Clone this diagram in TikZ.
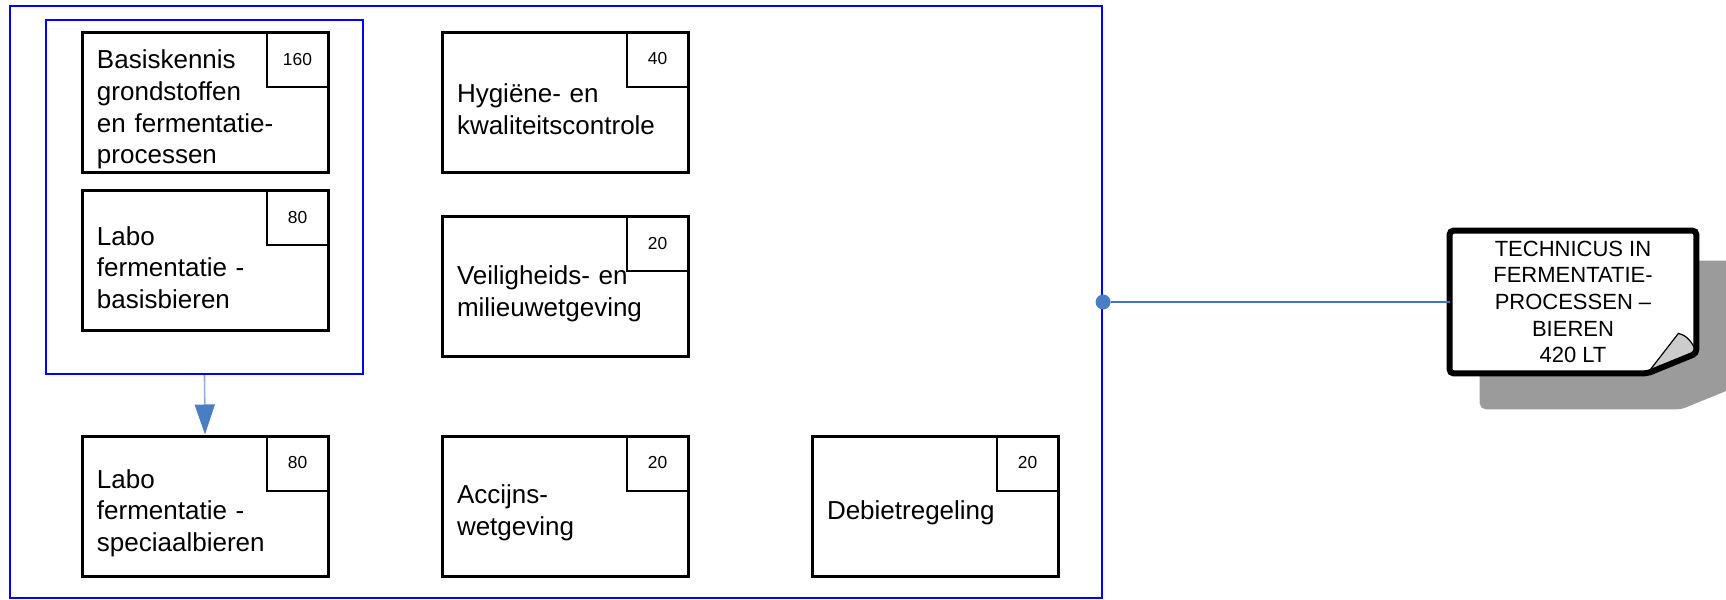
\documentclass[tikz,border=0pt]{standalone}
\usepackage{fontspec}
\setmainfont{Liberation Sans}
\usetikzlibrary{
  positioning, arrows.meta, fit, calc, backgrounds
}
\definecolor{frameblue}{HTML}{0000FF}
\definecolor{linkblue}{HTML}{4472C4}
\definecolor{tipblue}{HTML}{4A7EC4}
\definecolor{paleblue}{HTML}{8FAADC}
\definecolor{shadowgray}{HTML}{9B9B9B}
\definecolor{flapgray}{HTML}{CCCCCC}

\begin{document}
\begin{tikzpicture}[
      x=0.5pt, y=-0.5pt,
      every node/.style={font=\fontsize{13}{15.85}\selectfont},
      module/.style={draw, line width=1.5pt, minimum width=123pt, minimum height=70pt,
        text width=108pt, inner xsep=7.5pt, inner ysep=0pt, align=left,
        execute at begin node={\rule{0pt}{16.5pt}}},
      hours/.style={draw, line width=1pt, minimum width=31pt, minimum height=27.5pt,
        inner sep=0pt, anchor=north east, font=\fontsize{8.7}{10}\selectfont},
      groupbox/.style={draw=frameblue, line width=1.1pt, inner sep=0pt},
      port/.style={circle, fill=tipblue, inner sep=0pt, minimum size=7.5pt},
      notebox/.style={minimum width=123pt, minimum height=71pt, inner sep=0pt,
        align=center, font=\fontsize{11}{13.3}\selectfont},
      >=Stealth,
    ]
    \useasboundingbox (0,0) rectangle (1726,600);

    % modules
    \node[module] (basis) at (205,102.5) {Basiskennis\\grondstoffen\\en fermentatie-\\processen};
    \node[module] (labobasis) at (205,260.5) {Labo\\fermentatie -\\basisbieren};
    \node[module] (hygiene) at (565,102) {Hygiëne- en\\kwaliteitscontrole};
    \node[module] (veilig) at (565,286.5) {Veiligheids- en\\milieuwetgeving};
    \node[module] (labospec) at (205,506) {Labo\\fermentatie -\\speciaalbieren};
    \node[module] (accijns) at (565,506) {Accijns-\\wetgeving};
    \node[module] (debiet) at (935,506) {Debietregeling};

    % hours
    \node[hours] (h-basis) at (basis.north east) {160};
    \node[hours] (h-labobasis) at (labobasis.north east) {80};
    \node[hours] (h-hygiene) at (hygiene.north east) {40};
    \node[hours] (h-veilig) at (veilig.north east) {20};
    \node[hours] (h-labospec) at (labospec.north east) {80};
    \node[hours] (h-accijns) at (accijns.north east) {20};
    \node[hours] (h-debiet) at (debiet.north east) {20};

    % groups
    \node[groupbox, fit={(46,20) (363,374)}] (core) {};
    \node[groupbox, fit={(10,6) (1102,598)}] (outer) {};
    \node[port] (dot) at (outer.east) {};

    % certificate
    \node[notebox] (note) at (1573,302) {TECHNICUS IN\\FERMENTATIE-\\PROCESSEN --\\BIEREN\\420 LT};
    \begin{scope}[on background layer]
      \filldraw[shadowgray, line width=3pt, rounded corners=2pt, transform canvas={shift={(33,33)}}]
        (note.north west) -- (note.north east) -- ($(note.south east)+(0,-20)$)
        -- ($(note.south east)+(-49,0)$) -- (note.south west) -- cycle;
      \fill[white] (note.north west) -- (note.north east) -- ($(note.south east)+(0,-20)$)
        -- ($(note.south east)+(-49,0)$) -- (note.south west) -- cycle;
      \filldraw[fill=flapgray, draw=black, line width=0.6pt]
        ($(note.south east)+(-49,0)$) -- ($(note.south east)+(-18,-40)$)
        .. controls +(9,2) and +(-3,-10) .. ($(note.south east)+(0,-20)$) -- cycle;
      \draw[line width=3pt, rounded corners=2pt]
        (note.north west) -- (note.north east) -- ($(note.south east)+(0,-20)$)
        -- ($(note.south east)+(-49,0)$) -- (note.south west) -- cycle;
    \end{scope}

    % connectors
    \draw[paleblue, line width=0.8pt, -{Triangle[length=15pt, width=10pt, color=tipblue]}]
      (core.south) -- (labospec.north);
    \draw[linkblue, line width=0.6pt] (dot) -- (note.west);
  \end{tikzpicture}
\end{document}
